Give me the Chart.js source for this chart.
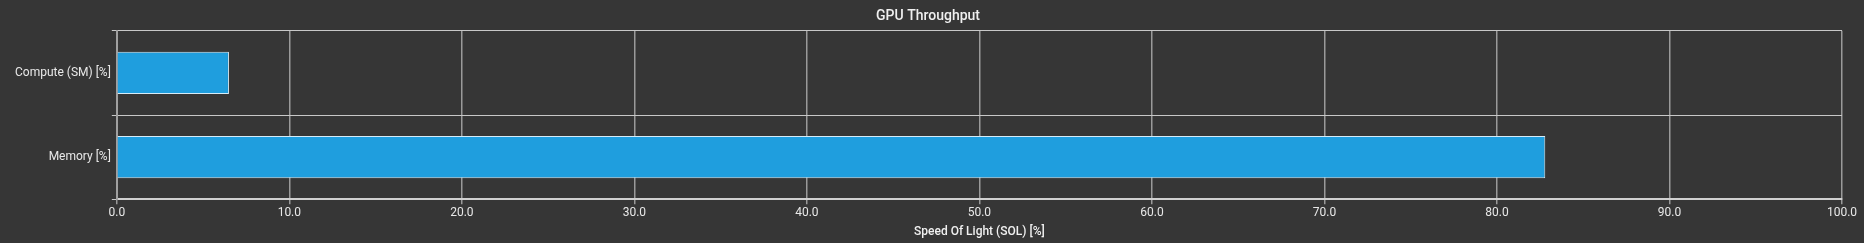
<!DOCTYPE html>
<html>
<head>
<meta charset="utf-8">
<script src="https://cdn.jsdelivr.net/npm/chart.js@4"></script>
<style>
html,body{margin:0;padding:0;background:#363636;}
#wrap{width:1864px;height:243px;position:relative;}
</style>
</head>
<body>
<div id="wrap"><canvas id="c" width="1864" height="243"></canvas></div>
<script>
const categories = ["Compute (SM) [%]", "Memory [%]"];
const throughputValues = [6.5, 82.8];
const chartTitle = "GPU Throughput";
const xAxisTitle = "Speed Of Light (SOL) [%]";

const ctx = document.getElementById('c');
new Chart(ctx, {
  type: 'bar',
  data: {
    labels: categories,
    datasets: [{
      data: throughputValues,
      backgroundColor: '#1f9ede',
      borderColor: '#d6ecf8',
      borderWidth: 1,
      barPercentage: 0.5,
      categoryPercentage: 1.0
    }]
  },
  options: {
    indexAxis: 'y',
    responsive: false,
    animation: false,
    layout: { padding: { left: 14, right: 22, top: 0, bottom: 0 } },
    plugins: {
      legend: { display: false },
      tooltip: { enabled: false },
      title: {
        display: true,
        text: chartTitle,
        color: '#f0f0f0',
        font: { family: 'Roboto', size: 14, weight: '500' },
        padding: { top: 8, bottom: 6 }
      }
    },
    scales: {
      x: {
        min: 0, max: 100,
        ticks: {
          stepSize: 10,
          color: '#e8e8e8',
          font: { family: 'Roboto', size: 12 },
          padding: 2,
          callback: v => Number(v).toFixed(1)
        },
        grid: { color: '#9a9a9a', lineWidth: 1.5, tickLength: 5 },
        border: { color: '#d0d0d0', width: 2 },
        title: {
          display: true,
          text: xAxisTitle,
          color: '#f0f0f0',
          font: { family: 'Roboto', size: 12, weight: '500' },
          padding: { top: 2, bottom: 4 }
        }
      },
      y: {
        ticks: {
          color: '#e8e8e8',
          font: { family: 'Roboto', size: 12 },
          padding: 1
        },
        grid: { color: '#c8c8c8', lineWidth: 1, tickLength: 5, offset: true },
        border: { color: '#a0a0a0', width: 2 }
      }
    }
  }
});
</script>
</body>
</html>
